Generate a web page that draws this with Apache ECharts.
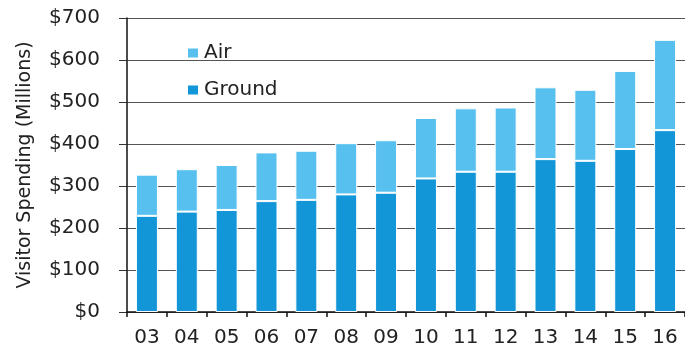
<!DOCTYPE html>
<html>
<head>
<meta charset="utf-8">
<script src="https://cdn.jsdelivr.net/npm/echarts@6/dist/echarts.min.js"></script>
<style>
  html, body { margin: 0; padding: 0; background: #fff; }
  #chart { width: 685px; height: 349px; }
</style>
</head>
<body>
<div id="chart"></div>
<script>
// Fiscal years (two-digit labels)
const years = ['03', '04', '05', '06', '07', '08', '09', '10', '11', '12', '13', '14', '15', '16'];
// Visitor spending, millions of dollars
const ground = [229, 239, 243, 264, 267, 280, 284, 318, 334, 334, 364, 360, 388, 433];
const air = [98, 101, 107, 116, 117, 122, 125, 144, 151, 153, 171, 169, 186, 215];
const yTicks = [0, 100, 200, 300, 400, 500, 600, 700];

const FONT = '"DejaVu Sans", sans-serif';
const GROUND_COLOR = '#1296d8';
const AIR_COLOR = '#57c0ef';

const chart = echarts.init(document.getElementById('chart'), null, { renderer: 'canvas' });

chart.setOption({
  animation: false,
  backgroundColor: '#ffffff',
  grid: { left: 127, top: 18, bottom: 37, width: 567, containLabel: false },
  legend: {
    orient: 'vertical',
    left: 181,
    top: 38,
    itemWidth: 12,
    itemHeight: 11,
    itemGap: 17,
    icon: 'rect',
    data: ['Air', 'Ground'],
    textStyle: { fontFamily: FONT, fontSize: 20, color: '#222', padding: [0, 0, 0, 0] }
  },
  xAxis: {
    type: 'category',
    data: years,
    boundaryGap: true,
    axisLine: { lineStyle: { color: '#111', width: 1.5 } },
    axisTick: { show: true, alignWithLabel: false, length: 5, lineStyle: { color: '#111', width: 1.5 } },
    axisLabel: { fontFamily: FONT, fontSize: 20, color: '#222', margin: 16 }
  },
  yAxis: {
    type: 'value',
    min: yTicks[0],
    max: yTicks[yTicks.length - 1],
    interval: 100,
    name: 'Visitor Spending (Millions)',
    nameLocation: 'middle',
    nameRotate: 90,
    nameGap: 92,
    nameTextStyle: { fontFamily: FONT, fontSize: 19, color: '#222' },
    axisLine: { show: true, lineStyle: { color: '#111', width: 1.5 } },
    axisTick: { show: true, length: 8, lineStyle: { color: '#333', width: 1 } },
    axisLabel: {
      fontFamily: FONT, fontSize: 20, color: '#222', margin: 27,
      formatter: v => '$' + v
    },
    splitLine: { show: true, lineStyle: { color: '#555', width: 1 } }
  },
  series: [
    {
      name: 'Ground',
      type: 'bar',
      stack: 'spend',
      data: ground,
      barWidth: 22,
      itemStyle: { color: GROUND_COLOR, borderColor: '#ffffff', borderWidth: 1 }
    },
    {
      name: 'Air',
      type: 'bar',
      stack: 'spend',
      data: air,
      barWidth: 22,
      itemStyle: { color: AIR_COLOR, borderColor: '#ffffff', borderWidth: 1 }
    }
  ]
});
</script>
</body>
</html>
